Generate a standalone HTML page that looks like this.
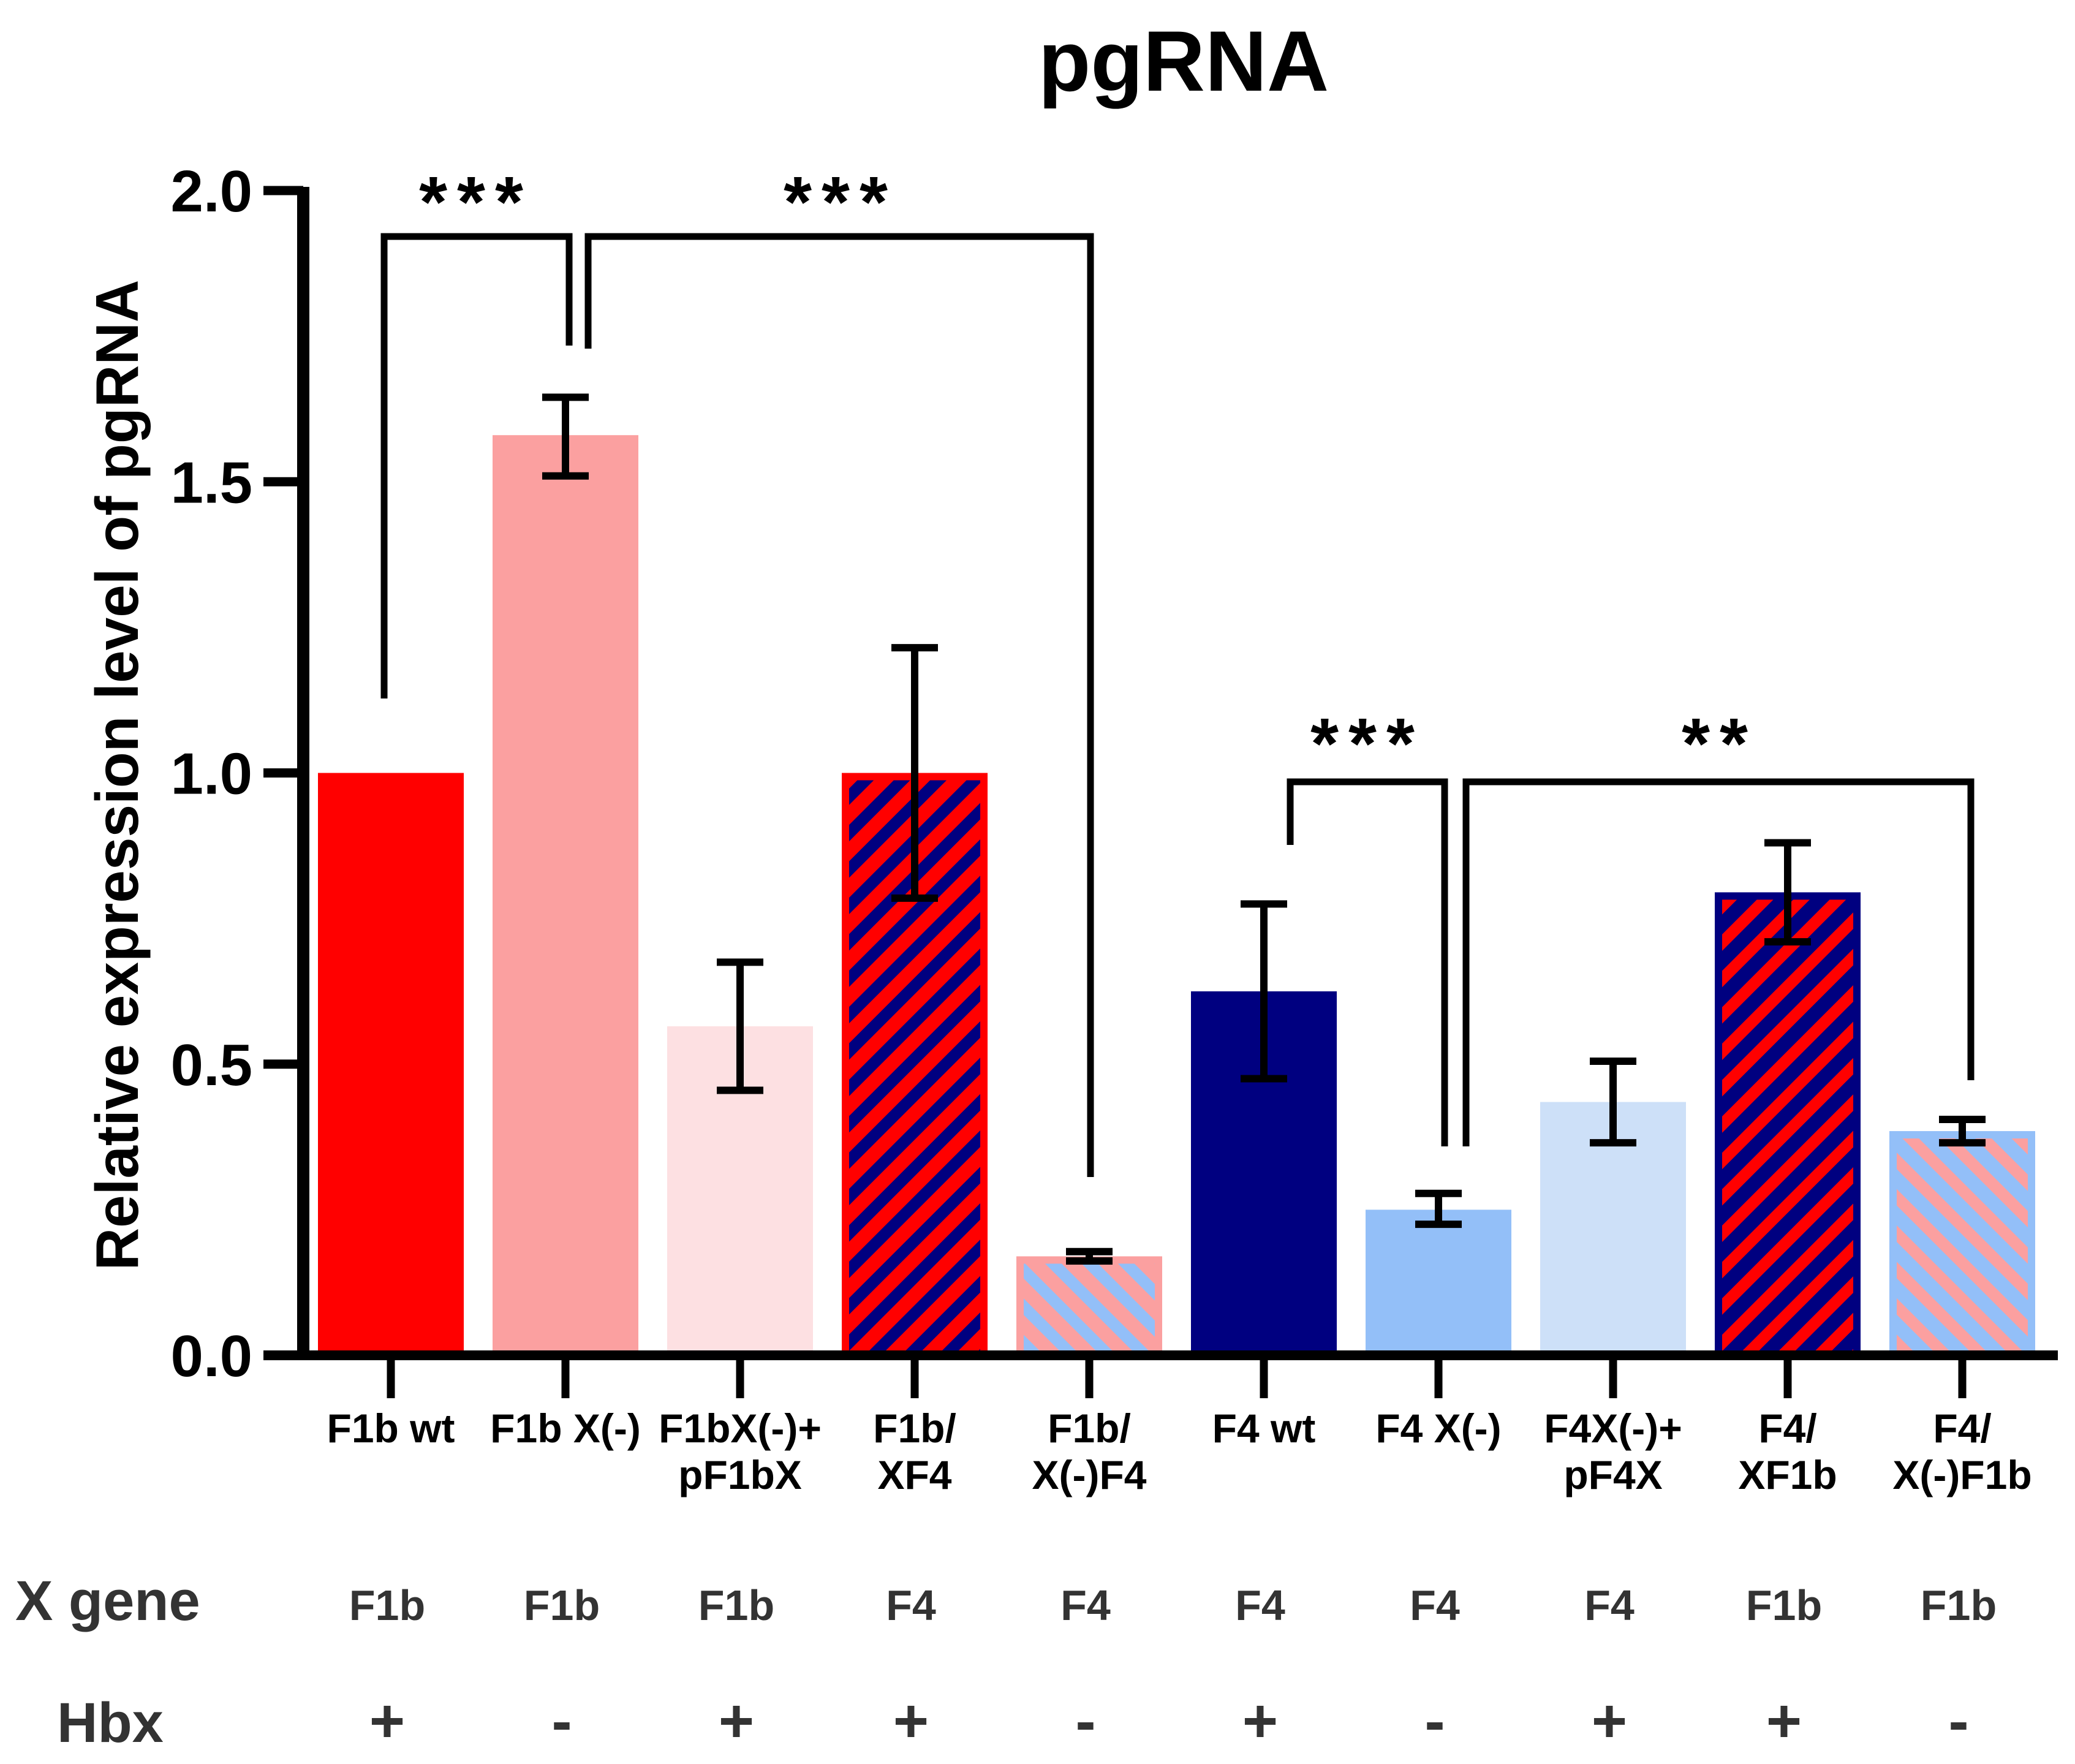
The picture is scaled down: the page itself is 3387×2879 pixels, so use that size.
<!DOCTYPE html>
<html><head><meta charset="utf-8"><style>
html,body{margin:0;padding:0;background:#fff;}
svg{display:block;font-family:"Liberation Sans",Arial,sans-serif;}
</style></head><body>
<svg id="chart" width="3387" height="2879" viewBox="0 0 3387 2879" xmlns="http://www.w3.org/2000/svg">
<defs>
<pattern id="hatchRN" patternUnits="userSpaceOnUse" width="42" height="42" patternTransform="rotate(45)">
<rect width="42" height="42" fill="#ff0000"/><rect x="0" y="0" width="19" height="42" fill="#000080"/></pattern>
<pattern id="hatchNR" patternUnits="userSpaceOnUse" width="42" height="42" patternTransform="rotate(45)">
<rect width="42" height="42" fill="#000080"/><rect x="0" y="0" width="19" height="42" fill="#ff0000"/></pattern>
<pattern id="hatchPB" patternUnits="userSpaceOnUse" width="42" height="42" patternTransform="rotate(-45)">
<rect width="42" height="42" fill="#fba0a0"/><rect x="0" y="0" width="19" height="42" fill="#93bff8"/></pattern>
<pattern id="hatchBP" patternUnits="userSpaceOnUse" width="42" height="42" patternTransform="rotate(-45)">
<rect width="42" height="42" fill="#93bff8"/><rect x="0" y="0" width="19" height="42" fill="#fba0a0"/></pattern>
</defs>
<text x="1932" y="148" font-size="140" font-weight="bold" text-anchor="middle">pgRNA</text>
<text transform="translate(225,1265) rotate(-90)" font-size="98" font-weight="bold" text-anchor="middle" textLength="1617" lengthAdjust="spacingAndGlyphs">Relative expression level of pgRNA</text>
<g id="plot"></g>
</svg>
<script>
const categories = ["F1b wt","F1b X(-)","F1bX(-)+|pF1bX","F1b/|XF4","F1b/|X(-)F4","F4 wt","F4 X(-)","F4X(-)+|pF4X","F4/|XF1b","F4/|X(-)F1b"];
const means = [1.0,1.58,0.565,1.0,0.17,0.625,0.25,0.435,0.795,0.385];
const errLow = [1.0,1.51,0.455,0.785,0.162,0.475,0.225,0.365,0.71,0.365];
const errHigh = [1.0,1.645,0.675,1.215,0.178,0.775,0.278,0.505,0.88,0.405];
const yTicks = [0,0.5,1.0,1.5,2.0];
const yTickLabels = ["0.0","0.5","1.0","1.5","2.0"];
const xGene = ["F1b","F1b","F1b","F4","F4","F4","F4","F4","F1b","F1b"];
const hbx = ["+","-","+","+","-","+","-","+","+","-"];
const fills = ["#ff0000","#fba0a0","#fde0e2","url(#hatchRN)","url(#hatchPB)","#000080","#93bff8","#cde0f8","url(#hatchNR)","url(#hatchBP)"];
const borders = ["#ff0000","#fba0a0","#fde0e2","#ff0000","#fba0a0","#000080","#93bff8","#cde0f8","#000080","#93bff8"];

const NS="http://www.w3.org/2000/svg";
const g=document.getElementById('plot');
const y0=2212, yPerUnit=950.5;
function yScale(v){return y0-v*yPerUnit;}
function xScale(i){return 638+285*i;}
const bw=238;
function mk(tag,attrs,parent){const e=document.createElementNS(NS,tag);for(const k in attrs)e.setAttribute(k,attrs[k]);(parent||g).appendChild(e);return e;}

means.forEach((v,i)=>{
  const x=xScale(i)-bw/2, y=yScale(v), h=y0-y;
  const r=mk('rect',{x:x,y:y,width:bw,height:h,fill:borders[i]});
  
  
  if(fills[i].startsWith('url')){
    const ins=mk('rect',{x:x+12,y:y+12,width:bw-24,height:Math.max(0,h-12),fill:fills[i]});
    
    
  }
});
means.forEach((v,i)=>{
  if(errHigh[i]-errLow[i]<0.001) return;
  const cx=xScale(i), a=yScale(errHigh[i]), b=yScale(errLow[i]);
  const e=mk('path',{d:`M${cx},${a}V${b}M${cx-38},${a}H${cx+38}M${cx-38},${b}H${cx+38}`,stroke:'#000',"stroke-width":12,fill:'none'});
  
  
});
const ya=mk('path',{d:`M495,305V2220`,stroke:'#000',"stroke-width":20,fill:'none'});


const xa=mk('path',{d:`M430,2212H3359`,stroke:'#000',"stroke-width":16,fill:'none'});


yTicks.forEach((t,i)=>{
  const y=yScale(t);
  const tk=mk('path',{d:`M430,${y}H495`,stroke:'#000',"stroke-width":15});
  
  
  const tl=mk('text',{x:412,y:y+34,"font-size":96,"font-weight":"bold","text-anchor":"end"});
  tl.textContent=yTickLabels[i];
  
  
});
categories.forEach((c,i)=>{
  const cx=xScale(i);
  const tk=mk('path',{d:`M${cx},2212V2282`,stroke:'#000',"stroke-width":13});
  
  
  const lines=c.split('|');
  lines.forEach((ln,j)=>{
    const t=mk('text',{x:cx,y:2354+j*76,"font-size":66,"font-weight":"bold","text-anchor":"middle"});
    t.textContent=ln;
    
    
  });
  const xg=mk('text',{x:cx-6,y:2644,"font-size":70,"font-weight":"bold","text-anchor":"middle",fill:'#333'});
  xg.textContent=xGene[i];
  
  
  const hb=mk('text',{x:cx-6,y:2843,"font-size":100,"font-weight":"bold","text-anchor":"middle",fill:'#333'});
  hb.textContent=hbx[i];
  
  
});
const xgl=mk('text',{x:25,y:2644,"font-size":92,"font-weight":"bold",fill:'#333'});
xgl.textContent='X gene';


const hbl=mk('text',{x:93,y:2843,"font-size":92,"font-weight":"bold",fill:'#333'});
hbl.textContent='Hbx';



const brackets=[
 {d:'M627,1140V386H929V564',sx:777,sy:370,s:'***'},
 {d:'M960,569V386H1780V1921',sx:1372,sy:370,s:'***'},
 {d:'M2106,1379V1276H2358V1871',sx:2232,sy:1254,s:'***'},
 {d:'M2393,1871V1276H3217V1763',sx:2807,sy:1254,s:'**'}
];
brackets.forEach(b=>{
  const p=mk('path',{d:b.d,stroke:'#000',"stroke-width":11,fill:'none'});
  
  
  const t=mk('text',{x:b.sx,y:b.sy,"font-size":118,"font-weight":"bold","text-anchor":"middle","letter-spacing":16});
  t.textContent=b.s;
  
  
});
</script>
</body></html>
